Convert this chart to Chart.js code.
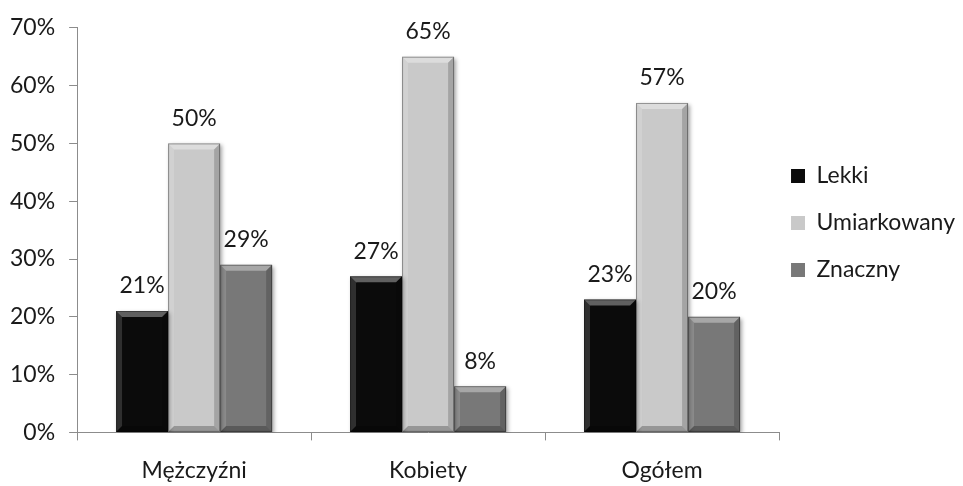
<!DOCTYPE html>
<html>
<head>
<meta charset="utf-8">
<script src="https://cdn.jsdelivr.net/npm/chart.js@4.4.1/dist/chart.umd.min.js"></script>
<style>
  html, body { margin: 0; padding: 0; background: #fff; }
  #wrap { width: 963px; height: 486px; }
</style>
</head>
<body>
<div id="wrap"><canvas id="chart"></canvas></div>
<script>
// Data
const categories = ['Mężczyźni', 'Kobiety', 'Ogółem'];
const lekki = [21, 27, 23];
const umiarkowany = [50, 65, 57];
const znaczny = [29, 8, 20];
const seriesNames = ['Lekki', 'Umiarkowany', 'Znaczny'];
const seriesColors = ['#0b0b0b', '#c9c9c9', '#787878'];
const yTicks = [0, 10, 20, 30, 40, 50, 60, 70];

const FONT = 'Lato, "Open Sans", sans-serif';

// bevel + shadow look of the old office bars
const bevelPlugin = {
  id: 'bevel',
  beforeDatasetsDraw(chart) {
    const ctx = chart.ctx;
    ctx.save();
    ctx.shadowColor = 'rgba(0,0,0,0.35)';
    ctx.shadowBlur = 4;
    ctx.shadowOffsetX = 2;
    ctx.shadowOffsetY = 2;
  },
  afterDatasetsDraw(chart) {
    const ctx = chart.ctx;
    ctx.restore();
    ctx.save();
    chart.data.datasets.forEach((ds, i) => {
      const meta = chart.getDatasetMeta(i);
      meta.data.forEach(bar => {
        const l = bar.x - bar.width / 2, r = bar.x + bar.width / 2;
        const t = bar.y, b = bar.base;
        const e = Math.min(6, (b - t) / 2);
        // top
        ctx.fillStyle = 'rgba(255,255,255,0.35)';
        ctx.beginPath();
        ctx.moveTo(l, t); ctx.lineTo(r, t); ctx.lineTo(r - e, t + e); ctx.lineTo(l + e, t + e);
        ctx.closePath(); ctx.fill();
        // left
        ctx.fillStyle = 'rgba(255,255,255,0.15)';
        ctx.beginPath();
        ctx.moveTo(l, t); ctx.lineTo(l + e, t + e); ctx.lineTo(l + e, b - e); ctx.lineTo(l, b);
        ctx.closePath(); ctx.fill();
        // right
        ctx.fillStyle = 'rgba(0,0,0,0.18)';
        ctx.beginPath();
        ctx.moveTo(r, t); ctx.lineTo(r, b); ctx.lineTo(r - e, b - e); ctx.lineTo(r - e, t + e);
        ctx.closePath(); ctx.fill();
        // bottom
        ctx.fillStyle = 'rgba(0,0,0,0.25)';
        ctx.beginPath();
        ctx.moveTo(l, b); ctx.lineTo(r, b); ctx.lineTo(r - e, b - e); ctx.lineTo(l + e, b - e);
        ctx.closePath(); ctx.fill();
        ctx.strokeStyle = 'rgba(0,0,0,0.35)';
        ctx.lineWidth = 1;
        ctx.strokeRect(l + 0.5, t + 0.5, bar.width - 1, b - t - 1);
      });
    });
    ctx.restore();
  }
};

// value labels above each bar
const valueLabels = {
  id: 'valueLabels',
  afterDatasetsDraw(chart) {
    const ctx = chart.ctx;
    ctx.save();
    ctx.font = '23px ' + FONT;
    ctx.fillStyle = '#1a1a1a';
    ctx.textAlign = 'center';
    ctx.textBaseline = 'middle';
    chart.data.datasets.forEach((ds, i) => {
      chart.getDatasetMeta(i).data.forEach((bar, j) => {
        ctx.fillText(ds.data[j] + '%', bar.x, bar.y - 25);
      });
    });
    ctx.restore();
  }
};

// legend sits closer to the plot and higher than chart.js puts it
const legendNudge = {
  id: 'legendNudge',
  beforeLayout(chart) {
    const lg = chart.legend;
    if (lg && !lg._nudged) {
      const fit = lg.fit;
      lg.fit = function () { fit.call(this); this.width -= 20; };
      lg._nudged = true;
    }
  },
  afterLayout(chart) {
    const lg = chart.legend;
    if (!lg) return;
    lg.left -= 12;
    lg.width += 12;
    lg.top -= 37; lg.bottom -= 37;
  }
};

const ctx = document.getElementById('chart').getContext('2d');
new Chart(ctx, {
  type: 'bar',
  data: {
    labels: categories,
    datasets: [lekki, umiarkowany, znaczny].map((d, i) => ({
      label: seriesNames[i],
      data: d,
      backgroundColor: seriesColors[i],
      borderWidth: 0,
      categoryPercentage: 0.667,
      barPercentage: 1.0
    }))
  },
  options: {
    responsive: true,
    maintainAspectRatio: false,
    animation: false,
    layout: { padding: { top: 20, right: 6, bottom: -14, left: -4 } },
    scales: {
      x: {
        grid: { drawOnChartArea: false, tickLength: 8, color: '#8c8c8c' },
        border: { color: '#8c8c8c' },
        ticks: { color: '#1a1a1a', font: { family: FONT, size: 23 }, padding: 16 }
      },
      y: {
        min: yTicks[0],
        max: yTicks[yTicks.length - 1],
        afterBuildTicks: axis => { axis.ticks = yTicks.map(v => ({ value: v })); },
        grid: { drawOnChartArea: false, tickLength: 8, color: '#8c8c8c' },
        border: { color: '#8c8c8c' },
        ticks: {
          color: '#1a1a1a',
          font: { family: FONT, size: 23 },
          padding: 14,
          callback: v => v + '%'
        }
      }
    },
    plugins: {
      legend: {
        position: 'right',
        labels: {
          color: '#1a1a1a',
          font: { family: FONT, size: 23 },
          boxWidth: 14,
          boxHeight: 14,
          padding: 24
        }
      },
      tooltip: { enabled: false }
    }
  },
  plugins: [bevelPlugin, valueLabels, legendNudge]
});
</script>
</body>
</html>
